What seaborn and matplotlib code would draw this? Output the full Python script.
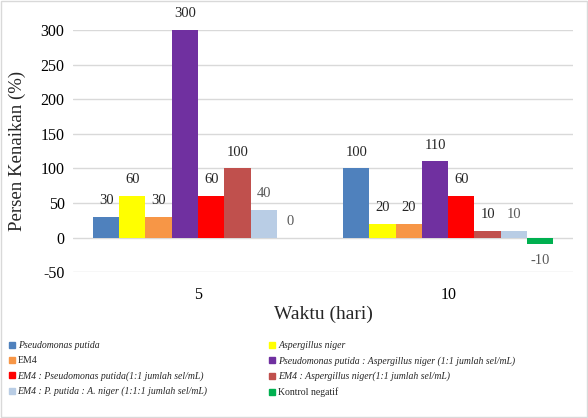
import matplotlib
matplotlib.use('Agg')
import matplotlib.pyplot as plt
import matplotlib.patches as mpatches
import seaborn as sns
import pandas as pd

sns.set_style('white')
plt.rcParams['font.family'] = ['Liberation Serif', 'DejaVu Serif']
plt.rcParams['axes.unicode_minus'] = False

# data
waktu = ['5', '10']
perlakuan = [
    'Pseudomonas putida',
    'Aspergillus niger',
    'EM4',
    'Pseudomonas putida : Aspergillus niger (1:1 jumlah sel/mL)',
    'EM4 : Pseudomonas putida(1:1 jumlah sel/mL)',
    'EM4 : Aspergillus niger(1:1 jumlah sel/mL)',
    'EM4 : P. putida : A. niger (1:1:1 jumlah sel/mL)',
    'Kontrol negatif',
]
hari_5 = [30, 60, 30, 300, 60, 100, 40, 0]
hari_10 = [100, 20, 20, 110, 60, 10, 10, -10]
warna = ['#4F81BD', '#FFFF00', '#F79646', '#7030A0',
         '#FF0000', '#C0504D', '#B9CDE5', '#00B050']
italic = [True, True, False, True, True, True, True, False]

rows = []
for p, a, b in zip(perlakuan, hari_5, hari_10):
    rows.append({'waktu': '5', 'perlakuan': p, 'persen': a})
    rows.append({'waktu': '10', 'perlakuan': p, 'persen': b})
df = pd.DataFrame(rows)

fig = plt.figure(figsize=(5.88, 4.18), dpi=100)
ax = fig.add_axes([0.124, 0.349, 0.851, 0.579])

sns.barplot(data=df, x='waktu', y='persen', hue='perlakuan', order=waktu,
            hue_order=perlakuan, palette=warna, saturation=1, width=0.84,
            linewidth=0, legend=False, ax=ax)

ax.set_ylim(-50, 300)
ax.set_yticks(range(-50, 301, 50))
ax.yaxis.grid(True, color='#D9D9D9', linewidth=1)
ax.set_axisbelow(True)
for s in ax.spines.values():
    s.set_visible(False)
ax.tick_params(axis='both', length=0, labelsize=11.5, colors='black')
ax.tick_params(axis='x', pad=11)
ax.tick_params(axis='y', pad=6)
ax.set_ylabel('Persen Kenaikan (%)', fontsize=13.5)
ax.yaxis.set_label_coords(-0.094, 0.5)
ax.set_xlabel('Waktu (hari)', fontsize=14, labelpad=2)

# data labels
for i, cont in enumerate(ax.containers):
    col = '#595959' if i in (6, 7) else '#262626'
    txt = ax.bar_label(cont, fmt='%g', padding=7, fontsize=10.5, color=col)
    for t in txt:
        t.set_clip_on(False)

# legend in two columns
def make_legend(idx, x0):
    handles = [mpatches.Patch(color=warna[i]) for i in idx]
    leg = fig.legend(handles, [perlakuan[i] for i in idx], loc='upper left',
                     bbox_to_anchor=(x0, 0.184), frameon=False, fontsize=7,
                     handlelength=0.6, handleheight=0.6, handletextpad=0.3,
                     labelspacing=0.62, borderaxespad=0, borderpad=0)
    for t, i in zip(leg.get_texts(), idx):
        if italic[i]:
            t.set_style('italic')
    return leg

make_legend([0, 2, 4, 6], 0.015)
make_legend([1, 3, 5, 7], 0.458)

# chart border
fig.patches.append(mpatches.Rectangle((0.002, 0.002), 0.996, 0.996,
                                      transform=fig.transFigure, fill=False,
                                      edgecolor='#D9D9D9', linewidth=1))

fig.savefig('out.png', dpi=100)
